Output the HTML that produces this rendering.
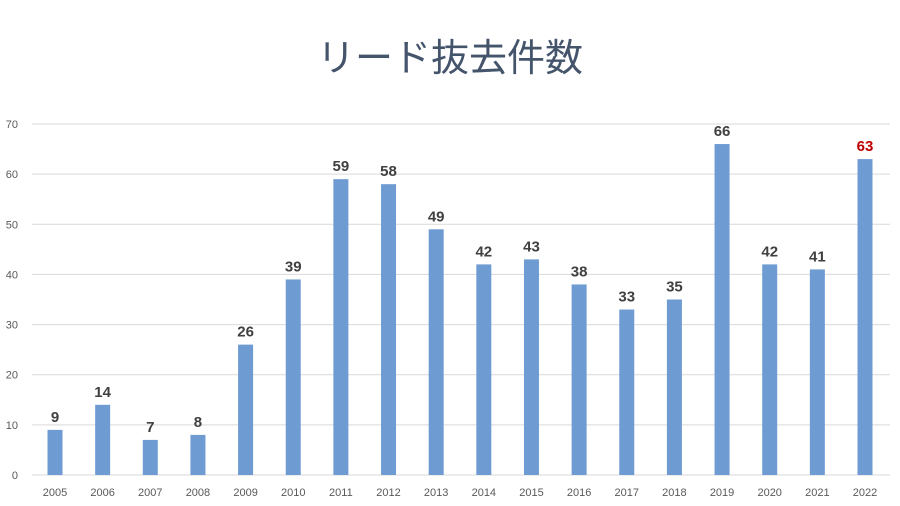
<!DOCTYPE html>
<html><head><meta charset="utf-8"><style>
body{margin:0;background:#fff;width:900px;height:506px;overflow:hidden}
svg{display:block;font-family:"Liberation Sans","Noto Sans CJK JP",sans-serif}
</style></head><body>
<svg id="c" width="900" height="506">
<text x="450" y="71" text-anchor="middle" font-size="38" fill="#44546a">リード抜去件数</text>
<g id="grid"></g><g id="bars"></g>
</svg>
<script>
const categories=["2005","2006","2007","2008","2009","2010","2011","2012","2013","2014","2015","2016","2017","2018","2019","2020","2021","2022"];
const values=[9,14,7,8,26,39,59,58,49,42,43,38,33,35,66,42,41,63];
const yTicks=[0,10,20,30,40,50,60,70];
const ns="http://www.w3.org/2000/svg";
const y=v=>475-v*(351/70);
const x=i=>55+i*(810/17);
const grid=document.getElementById('grid'),bars=document.getElementById('bars');
function mk(tag,attrs,parent,txt){const e=document.createElementNS(ns,tag);for(const k in attrs)e.setAttribute(k,attrs[k]);if(txt!==undefined)e.textContent=txt;parent.appendChild(e);return e;}
yTicks.forEach(t=>{
  const l=mk('line',{x1:32,x2:890,y1:y(t),y2:y(t),stroke:'#d9d9d9','stroke-width':1},grid);
  
  
  const tx=mk('text',{x:18,y:y(t)+4,'text-anchor':'end','font-size':11,fill:'#595959'},grid,t);
  
  
});
categories.forEach((c,i)=>{
  const v=values[i];
  const r=mk('rect',{x:x(i)-7.5,y:y(v),width:15,height:y(0)-y(v),fill:'#6f9bd3'},bars);
  
  
  const lb=mk('text',{x:x(i),y:y(v)-8,'text-anchor':'middle','font-size':15,'font-weight':'bold',fill:i===categories.length-1?'#c00000':'#404040'},bars,v);
  
  
  const xl=mk('text',{x:x(i),y:496,'text-anchor':'middle','font-size':11,fill:'#595959'},bars,c);
  
  
});
</script>
</body></html>
